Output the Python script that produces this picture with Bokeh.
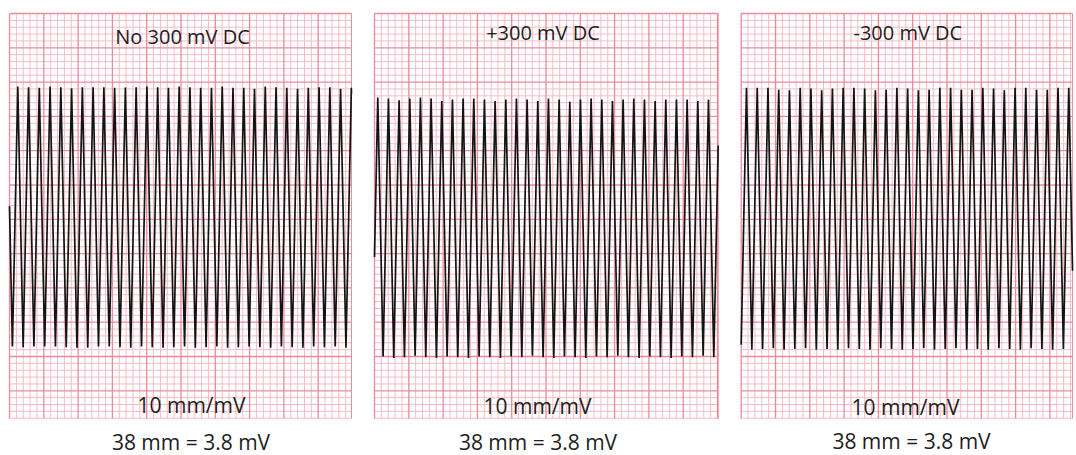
import numpy as np
from bokeh.plotting import figure
from bokeh.models import Range1d
from bokeh.core.properties import value
from bokeh.embed import file_html
from bokeh.resources import INLINE

# ---------------- data ----------------
panel_titles = ["No 300 mV DC", "+300 mV DC", "-300 mV DC"]
gain_labels = ["10 mm/mV", "10 mm/mV", "10 mm/mV"]
amp_labels = ["38 mm = 3.8 mV", "38 mm = 3.8 mV", "38 mm = 3.8 mV"]
gain_mm_per_mv = 10.0

# turning points of the triangle test signal (mV), read from the strips
peaks_1 = [1.90, 1.91, 1.90, 1.89, 1.91, 1.90, 1.885, 1.90, 1.90, 1.90, 1.89, 1.895,
           1.90, 1.91, 1.90, 1.89, 1.91, 1.90, 1.89, 1.89, 1.91, 1.89, 1.89, 1.875,
           1.91, 1.90, 1.89, 1.875, 1.89, 1.90, 1.90, 1.875, 1.89]
troughs_1 = [-1.88, -1.89, -1.88, -1.88, -1.88, -1.89, -1.90, -1.90, -1.88, -1.88, -1.89,
             -1.90, -1.88, -1.89, -1.90, -1.89, -1.88, -1.90, -1.89, -1.88, -1.90, -1.89,
             -1.88, -1.89, -1.90, -1.88, -1.89, -1.90, -1.88, -1.89, -1.88, -1.90, -1.89]

troughs_2 = [-1.88, -1.87, -1.89, -1.88, -1.86, -1.88, -1.89, -1.87, -1.88, -1.89, -1.87,
             -1.88, -1.89, -1.87, -1.88, -1.86, -1.88, -1.89, -1.87, -1.88, -1.89, -1.87,
             -1.88, -1.86, -1.88, -1.89, -1.87, -1.88, -1.89, -1.87, -1.88, -1.86, -1.88]
peaks_2 = [1.905, 1.89, 1.866, 1.89, 1.905, 1.89, 1.856, 1.876, 1.89, 1.89, 1.876,
           1.856, 1.876, 1.89, 1.876, 1.856, 1.89, 1.876, 1.842, 1.876, 1.89, 1.876,
           1.856, 1.876, 1.89, 1.876, 1.856, 1.876, 1.876, 1.876, 1.856, 1.876, 1.87]

troughs_3 = [-1.89, -1.90, -1.89, -1.88, -1.90, -1.89, -1.88, -1.90, -1.89, -1.90, -1.88,
             -1.89, -1.90, -1.88, -1.89, -1.90, -1.89, -1.88, -1.90, -1.89, -1.88, -1.90,
             -1.89, -1.90, -1.88, -1.89, -1.90, -1.88, -1.89, -1.90, -1.89, -1.88]
peaks_3 = [1.919, 1.919, 1.919, 1.89, 1.88, 1.919, 1.905, 1.88, 1.905, 1.919, 1.919,
           1.905, 1.88, 1.89, 1.919, 1.905, 1.88, 1.89, 1.919, 1.919, 1.89, 1.89,
           1.919, 1.905, 1.88, 1.919, 1.919, 1.89, 1.89, 1.919, 1.919]

# signal period on paper (mm) and time of first turning point (mm from strip edge)
periods_mm = [1.5685, 1.555, 1.566]
first_turn_mm = [-0.36, -0.30, -0.013]

# ---------------- layout ----------------
PX = 6.86                 # pixels per mm
W, H = 1076, 455
def fx(page_x):
    return page_x / PX
def fy(page_y):
    return (H - page_y) / PX

panel_left = [fx(9), fx(374), fx(740.7)]
panel_width = [49.85, 50.1, 48.3]
panel_top = fy(13)
panel_height = 59.04
baseline_from_top = [29.74, 31.3, 30.0]

MINOR = "#f6bcc7"
MAJOR = "#ec8a9c"

p = figure(width=W, height=H, x_range=Range1d(0, W / PX), y_range=Range1d(0, H / PX),
           output_backend="svg", toolbar_location=None, min_border=0,
           x_axis_type=None, y_axis_type=None)
p.grid.visible = False
p.outline_line_color = None
p.background_fill_color = "white"
p.border_fill_color = "white"

def interleave(first, second):
    out = []
    for i in range(max(len(first), len(second))):
        if i < len(first):
            out.append(first[i])
        if i < len(second):
            out.append(second[i])
    return out

waves = [interleave(peaks_1, troughs_1), interleave(troughs_2, peaks_2),
         interleave(troughs_3, peaks_3)]

for i in range(3):
    x0, w = panel_left[i], panel_width[i]
    top, h = panel_top, panel_height
    xs_k = np.arange(0, int(np.floor(w + 1e-6)) + 1)
    ys_k = np.arange(0, int(np.floor(h + 1e-6)) + 1)
    vminor = [k for k in xs_k if k % 5 != 0]
    hminor = [k for k in ys_k if k % 5 != 0]
    vmajor = [k for k in xs_k if k % 5 == 0]
    hmajor = [k for k in ys_k if k % 5 == 0]
    p.segment(x0=[x0 + k for k in vminor], x1=[x0 + k for k in vminor],
              y0=top - h, y1=top, line_color=MINOR, line_width=1)
    p.segment(x0=x0, x1=x0 + w, y0=[top - k for k in hminor],
              y1=[top - k for k in hminor], line_color=MINOR, line_width=1)
    p.segment(x0=[x0 + k for k in vmajor], x1=[x0 + k for k in vmajor],
              y0=top - h, y1=top, line_color=MAJOR, line_width=1.3)
    p.segment(x0=x0, x1=x0 + w, y0=[top - k for k in hmajor],
              y1=[top - k for k in hmajor], line_color=MAJOR, line_width=1.3)
    p.segment(x0=[x0 + w], x1=[x0 + w], y0=top - h, y1=top,
              line_color=MAJOR, line_width=1.0)

    # waveform (vertices every half period), clipped to the strip
    vals = np.array(waves[i])
    t = first_turn_mm[i] + np.arange(len(vals)) * periods_mm[i] / 2.0
    yv = top - baseline_from_top[i] + gain_mm_per_mv * vals
    inside = (t > 0) & (t < w)
    tc = np.concatenate([[0.0], t[inside], [w]])
    yc = np.interp(tc, t, yv)
    p.line(x=x0 + tc, y=yc, line_color="#141414", line_width=1.7)

TXT = "#1e1e1e"
FONT = value("Open Sans")
title_x = [fx(182), fx(542.5), fx(907.3)]
title_y = [fy(35.5), fy(32), fy(32.3)]
gain_x = [fx(191), fx(537), fx(905)]
gain_y = [fy(404.7), fy(405), fy(406)]
amp_x = [fx(190.5), fx(537.5), fx(911)]
amp_y = [fy(441.5), fy(441), fy(440.5)]

p.text(x=title_x, y=title_y, text=panel_titles, text_font=FONT, text_font_size="20px",
       text_align="center", text_baseline="alphabetic", text_color=TXT)
p.text(x=gain_x, y=gain_y, text=gain_labels, text_font=FONT, text_font_size="21px",
       text_align="center", text_baseline="alphabetic", text_color=TXT)
p.text(x=amp_x, y=amp_y, text=amp_labels, text_font=FONT, text_font_size="21px",
       text_align="center", text_baseline="alphabetic", text_color=TXT)

open("out.html", "w").write(file_html(p, INLINE))
